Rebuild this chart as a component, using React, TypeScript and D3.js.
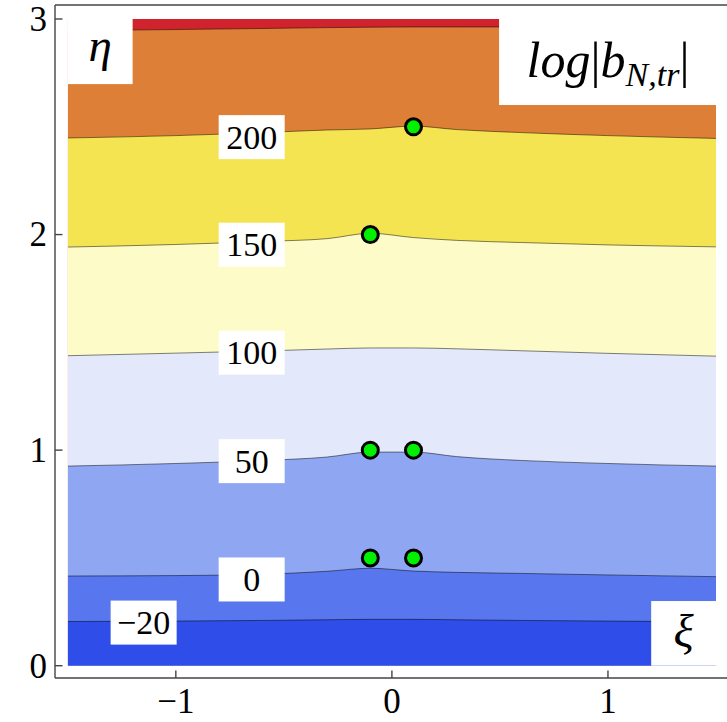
import React from "react";
import * as d3 from "d3";

// ---- data ----
const xiGrid = [-1.5, -1.0, -0.6, -0.3, -0.1, 0.1, 0.3, 0.6, 1.0, 1.5];
const contourLevels = [-20, 0, 50, 100, 150, 200, 250];
const etaM20 = [0.205, 0.207, 0.210, 0.213, 0.215, 0.215, 0.213, 0.210, 0.207, 0.204];
const eta0 = [0.416, 0.418, 0.424, 0.438, 0.452, 0.439, 0.433, 0.428, 0.421, 0.413];
const eta50 = [0.926, 0.938, 0.952, 0.968, 0.991, 0.991, 0.970, 0.952, 0.938, 0.926];
const eta100 = [1.438, 1.450, 1.460, 1.469, 1.474, 1.474, 1.470, 1.461, 1.449, 1.436];
const eta150 = [1.942, 1.954, 1.968, 1.981, 2.006, 1.986, 1.973, 1.963, 1.952, 1.943];
const eta200 = [2.448, 2.459, 2.473, 2.485, 2.490, 2.503, 2.487, 2.473, 2.459, 2.446];
const eta250 = [2.946, 2.951, 2.956, 2.960, 2.962, 2.963, 2.963, 2.963, 2.960, 2.956];
const contourEtas = [etaM20, eta0, eta50, eta100, eta150, eta200, eta250];
// band colours: below -20, -20..0, 0..50, 50..100, 100..150, 150..200, 200..250, above 250
const bandColors = ["#2f4ee9", "#5877ee", "#8fa7f2", "#e3e8fb", "#fdfcc8", "#f4e452", "#dd7f36", "#d0232d"];

const labelText = ["\u221220", "0", "50", "100", "150", "200"];
const labelXi = [-1.149, -0.649, -0.649, -0.649, -0.649, -0.649];
const labelEta = [0.200, 0.400, 0.949, 1.452, 1.953, 2.452];

const pointXi = [0.1, -0.1, -0.1, 0.1, -0.1, 0.1];
const pointEta = [2.5, 2.0, 1.0, 1.0, 0.5, 0.5];

const xTicks = [-1, 0, 1];
const yTicks = [0, 1, 2, 3];

const W = 727;
const H = 722;
const FONT = "'Liberation Serif', 'Times New Roman', serif";

export default function App() {
  const x = d3.scaleLinear().domain([-1.5, 1.5]).range([67.8, 716]);
  const y = d3.scaleLinear().domain([0, 3]).range([665.7, 19]);
  const x0 = x(-1.5), x1 = x(1.5), yb = y(0), yt = y(3);

  const frameLeft = 55, frameBottom = 678, frameTop = 5;

  const area = d3
    .area<number>()
    .x((_, i) => x(xiGrid[i]))
    .y1((d) => y(d))
    .y0(yb)
    .curve(d3.curveMonotoneX);
  const line = d3
    .line<number>()
    .x((_, i) => x(xiGrid[i]))
    .y((d) => y(d))
    .curve(d3.curveMonotoneX);

  const fills = [];
  for (let k = contourLevels.length - 1; k >= 0; k--) {
    fills.push(<path key={"f" + k} d={area(contourEtas[k]) || ""} fill={bandColors[k]} />);
  }

  const boxW = 66, boxH = 44;

  return (
    <svg width={W} height={H} style={{ position: "absolute", left: 0, top: 0, background: "#fff" }}>
      <defs>
        <clipPath id="plotclip">
          <rect x={x0} y={yt} width={x1 - x0} height={yb - yt} />
        </clipPath>
      </defs>
      <g clipPath="url(#plotclip)">
        <rect x={x0} y={yt} width={x1 - x0} height={yb - yt} fill={bandColors[7]} />
        {fills}
        {contourEtas.map((e, k) => (
          <path key={"l" + k} d={line(e) || ""} fill="none" stroke="#000" strokeOpacity={0.55} strokeWidth={0.9} />
        ))}
      </g>

      {/* contour labels */}
      {labelText.map((t, i) => (
        <g key={"lb" + i}>
          <rect x={x(labelXi[i]) - boxW / 2} y={y(labelEta[i]) - boxH / 2} width={boxW} height={boxH} fill="#fff" />
          <text x={x(labelXi[i])} y={y(labelEta[i])} dy="0.338em" textAnchor="middle" fontFamily={FONT} fontSize={34} fill="#000">
            {t}
          </text>
        </g>
      ))}

      {/* corner insets */}
      <rect x={x(-1.5)} y={y(3)} width={x(-1.2) - x(-1.5)} height={y(2.698) - y(3)} fill="#fff" />
      <text x={(x(-1.5) + x(-1.2)) / 2} y={y(2.849)} dy="0.2em" textAnchor="middle" fontFamily={FONT} fontStyle="italic" fontSize={47}>
        η
      </text>
      <rect x={x(0.496)} y={y(3)} width={x(1.5) - x(0.496)} height={y(2.601) - y(3)} fill="#fff" />
      <text x={608} y={77} textAnchor="middle" fontFamily={FONT} fontStyle="italic" fontSize={50}>
        log<tspan fontStyle="normal">|</tspan>b<tspan fontSize={34} dy={9}>N,tr</tspan>
        <tspan fontStyle="normal" dy={-9}>|</tspan>
      </text>
      <rect x={x(1.2)} y={y(0.3)} width={x(1.5) - x(1.2)} height={y(0) - y(0.3)} fill="#fff" />
      <text x={(x(1.2) + x(1.5)) / 2} y={y(0.15)} dy="0.3em" textAnchor="middle" fontFamily={FONT} fontStyle="italic" fontSize={47}>
        ξ
      </text>

      {/* points */}
      {pointXi.map((px, i) => (
        <circle key={"p" + i} cx={x(px)} cy={y(pointEta[i])} r={8} fill="#00f000" stroke="#000" strokeWidth={3} />
      ))}

      {/* frame */}
      <g stroke="#444" strokeWidth={1.4} fill="none">
        <line x1={frameLeft} y1={frameTop} x2={frameLeft} y2={frameBottom} />
        <line x1={frameLeft} y1={frameBottom} x2={W} y2={frameBottom} />
        <line x1={frameLeft} y1={frameTop} x2={W} y2={frameTop} />
        {yTicks.map((t) => (
          <line key={"yt" + t} x1={frameLeft} x2={frameLeft + 7.5} y1={y(t)} y2={y(t)} />
        ))}
        {xTicks.map((t) => (
          <line key={"xt" + t} x1={x(t)} x2={x(t)} y1={frameBottom} y2={frameBottom - 7.5} />
        ))}
      </g>
      {yTicks.map((t) => (
        <text key={"ytl" + t} x={47} y={y(t)} dy="0.338em" textAnchor="end" fontFamily={FONT} fontSize={35}>
          {t}
        </text>
      ))}
      {xTicks.map((t) => (
        <text key={"xtl" + t} x={x(t)} y={713} textAnchor="middle" fontFamily={FONT} fontSize={35}>
          {t < 0 ? "\u2212" + Math.abs(t) : String(t)}
        </text>
      ))}
    </svg>
  );
}
